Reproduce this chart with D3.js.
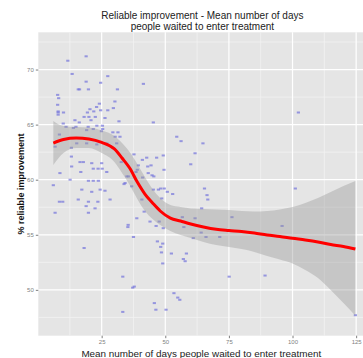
<!DOCTYPE html>
<html>
<head>
<meta charset="utf-8">
<script src="https://cdn.jsdelivr.net/npm/d3@7"></script>
<style>
    body { margin: 0; background: #fff; }
    svg text { font-family: "Liberation Sans", Arial, sans-serif; }
</style>
</head>
<body>
<div id="chart"></div>
<script>
// Scatter points: mean days waited (x) vs % reliable improvement (y)
const waitDays = [
    11.7, 18.9, 13.4, 27.4, 18.9, 24.6, 41.4, 15.8, 16.3, 19.8,
    31.2, 7.7, 8.1, 30.2, 24.1, 7.7, 23.0, 20.4, 24.6, 27.4,
    29.6, 7.9, 7.9, 7.9, 10.0, 19.4, 21.9, 102.3, 18.1, 20.0,
    22.5, 26.3, 14.5, 16.2, 20.8, 31.8, 45.3, 9.9, 23.1, 25.3,
    14.9, 11.0, 13.9, 19.7, 21.7, 25.4, 19.1, 24.9, 29.4, 31.4,
    30.3, 32.2, 8.4, 54.5, 56.2, 64.8, 15.2, 19.1, 23.1, 27.0,
    30.9, 6.7, 13.1, 61.7, 37.7, 49.2, 13.1, 42.7, 46.6, 41.0,
    16.5, 17.8, 21.1, 25.0, 32.7, 44.4, 43.1, 60.0, 39.4, 13.2,
    49.5, 21.7, 23.6, 25.2, 8.6, 16.8, 27.0, 38.5, 39.0, 43.3,
    41.1, 44.8, 45.5, 34.9, 35.5, 12.6, 19.8, 21.7, 23.7, 34.2,
    33.8, 36.8, 6.0, 45.3, 47.3, 48.2, 49.6, 50.8, 52.9, 48.6,
    65.4, 66.4, 66.7, 40.8, 17.2, 21.1, 24.4, 26.3, 8.4, 9.7,
    15.8, 19.8, 23.5, 28.3, 18.9, 22.4, 64.3, 6.7, 19.8, 41.7,
    56.7, 76.2, 61.7, 38.8, 44.0, 47.6, 46.4, 35.4, 35.3, 57.3,
    49.2, 64.1, 61.0, 66.0, 71.4, 37.5, 46.9, 49.0, 48.2, 18.1,
    48.5, 52.4, 58.3, 57.1, 57.8, 49.0, 33.3, 75.1, 89.2, 37.2,
    37.8, 53.4, 54.9, 55.7, 45.7, 33.3, 46.3, 50.3, 124.7, 101.1,
    95.9, 99.6
];
const improvePct = [
    70.8, 71.2, 69.6, 69.4, 68.9, 68.8, 68.7, 68.2, 68.2, 68.2,
    68.2, 67.7, 67.4, 67.1, 66.9, 66.8, 66.6, 66.4, 66.3, 66.3,
    66.5, 66.2, 66.1, 65.9, 66.1, 66.1, 66.2, 66.1, 65.7, 65.7,
    65.7, 65.6, 65.4, 65.2, 65.4, 65.3, 65.2, 65.1, 64.9, 64.9,
    64.8, 64.8, 64.7, 64.8, 64.6, 64.6, 64.5, 64.4, 64.3, 64.3,
    63.9, 63.9, 64.1, 63.9, 63.5, 63.3, 63.3, 63.3, 63.2, 63.3,
    63.3, 63.0, 62.9, 62.4, 62.3, 62.2, 62.1, 62.0, 62.0, 61.8,
    61.6, 61.6, 61.5, 61.5, 61.6, 61.3, 61.2, 61.4, 61.3, 61.2,
    60.9, 61.0, 61.0, 61.0, 60.6, 60.7, 60.7, 60.7, 60.9, 60.6,
    60.2, 60.4, 60.3, 60.3, 60.3, 60.0, 59.9, 59.9, 59.9, 59.7,
    59.6, 59.4, 59.5, 59.1, 59.1, 59.2, 59.2, 58.9, 58.7, 58.3,
    59.2, 58.6, 58.2, 58.2, 59.1, 58.9, 59.1, 59.0, 58.0, 58.0,
    58.2, 58.0, 58.0, 58.2, 57.6, 57.4, 57.4, 57.0, 57.0, 57.1,
    56.6, 56.6, 56.5, 56.5, 56.2, 56.2, 55.8, 55.9, 55.7, 55.7,
    55.6, 55.2, 54.7, 54.8, 54.8, 54.8, 54.4, 54.2, 53.9, 53.8,
    53.4, 53.3, 53.3, 52.8, 52.6, 52.4, 51.2, 51.2, 51.3, 50.2,
    50.3, 49.7, 49.3, 49.1, 48.8, 48.0, 48.2, 48.2, 47.7, 59.2,
    55.8, 54.7
];

// Loess fit with its confidence band
const fitX = [6.0, 10, 15, 20, 25, 30, 33, 36, 39, 42, 45, 48, 52, 56, 60, 65,
    70, 75, 80, 85, 90, 95, 100, 105, 110, 115, 120, 124.7];
const fitY = [63.33, 63.65, 63.78, 63.69, 63.38, 62.79, 61.97, 61.06, 59.79, 58.70,
    57.89, 57.16, 56.52, 56.25, 55.98, 55.71, 55.50, 55.39, 55.30, 55.16,
    54.98, 54.85, 54.68, 54.53, 54.35, 54.12, 53.94, 53.71];
const fitHi = [65.33, 64.87, 64.78, 64.74, 64.46, 63.97, 63.33, 62.51, 61.42, 60.25,
    59.16, 58.34, 57.70, 57.52, 57.39, 57.34, 57.30, 57.25, 57.16, 57.11,
    57.16, 57.30, 57.52, 57.89, 58.34, 58.88, 59.43, 59.88];
const fitLo = [61.33, 62.42, 62.88, 62.88, 62.42, 61.61, 60.61, 59.52, 58.25, 57.16,
    56.43, 55.89, 55.34, 54.98, 54.71, 54.35, 54.07, 53.89, 53.71, 53.44,
    53.08, 52.76, 52.40, 51.81, 51.08, 49.99, 48.81, 47.66];

const xTicks = [25, 50, 75, 100, 125];
const xMinor = [12.5, 37.5, 62.5, 87.5, 112.5];
const yTicks = [50, 55, 60, 65, 70];
const yMinor = [47.5, 52.5, 57.5, 62.5, 67.5, 72.5];

const chartTitle = ["Reliable improvement - Mean number of days",
    "people waited to enter treatment"];
const xTitle = "Mean number of days people waited to enter treatment";
const yTitle = "% reliable improvement";

function drawChart() {
    let width = 363;
    let height = 358;

    // panel box (the right side runs past the window, as in the picture)
    let panel = { left: 38.3, top: 32.3, right: 370.4, bottom: 335.7 };

    let svg = d3.select("#chart").append("svg")
        .attr("width", width)
        .attr("height", height);

    let x = d3.scaleLinear()
        .domain([0.1, 130.6])
        .range([panel.left, panel.right]);

    let y = d3.scaleLinear()
        .domain([45.84, 73.38])
        .range([panel.bottom, panel.top]);

    // grey panel
    svg.append("rect")
        .attr("x", panel.left)
        .attr("y", panel.top)
        .attr("width", panel.right - panel.left)
        .attr("height", panel.bottom - panel.top)
        .attr("fill", "#e5e5e5");

    // minor grid
    let grid = svg.append("g");
    grid.selectAll(".vminor").data(xMinor).enter().append("line")
        .attr("x1", d => x(d)).attr("x2", d => x(d))
        .attr("y1", panel.top).attr("y2", panel.bottom)
        .attr("stroke", "#f2f2f2").attr("stroke-width", 0.8);
    grid.selectAll(".hminor").data(yMinor).enter().append("line")
        .attr("y1", d => y(d)).attr("y2", d => y(d))
        .attr("x1", panel.left).attr("x2", panel.right)
        .attr("stroke", "#f2f2f2").attr("stroke-width", 0.8);

    // major grid
    grid.selectAll(".vmajor").data(xTicks).enter().append("line")
        .attr("x1", d => x(d)).attr("x2", d => x(d))
        .attr("y1", panel.top).attr("y2", panel.bottom)
        .attr("stroke", "#ffffff").attr("stroke-width", 1.2);
    grid.selectAll(".hmajor").data(yTicks).enter().append("line")
        .attr("y1", d => y(d)).attr("y2", d => y(d))
        .attr("x1", panel.left).attr("x2", panel.right)
        .attr("stroke", "#ffffff").attr("stroke-width", 1.2);

    // points
    let pts = waitDays.map((d, i) => ({ x: d, y: improvePct[i] }));
    svg.append("g").selectAll("rect")
        .data(pts)
        .enter()
        .append("rect")
        .attr("x", d => x(d.x) - 1.6)
        .attr("y", d => y(d.y) - 1)
        .attr("width", 3.2)
        .attr("height", 2)
        .attr("fill", "#7474dc")
        .attr("fill-opacity", 0.7);

    // smoother band and line
    let fit = fitX.map((d, i) => ({ x: d, y: fitY[i], lo: fitLo[i], hi: fitHi[i] }));

    let band = d3.area()
        .x(d => x(d.x))
        .y0(d => y(d.lo))
        .y1(d => y(d.hi))
        .curve(d3.curveMonotoneX);

    svg.append("path")
        .datum(fit)
        .attr("d", band)
        .attr("fill", "#999999")
        .attr("fill-opacity", 0.4);

    let line = d3.line()
        .x(d => x(d.x))
        .y(d => y(d.y))
        .curve(d3.curveMonotoneX);

    svg.append("path")
        .datum(fit)
        .attr("d", line)
        .attr("fill", "none")
        .attr("stroke", "#ff0000")
        .attr("stroke-width", 3);

    // axes
    let xAxis = g => g
        .attr("transform", `translate(0, ${panel.bottom})`)
        .call(d3.axisBottom(x).tickValues(xTicks).tickSize(2.5).tickPadding(2))
        .call(g => g.select(".domain").remove());

    let yAxis = g => g
        .attr("transform", `translate(${panel.left}, 0)`)
        .call(d3.axisLeft(y).tickValues(yTicks).tickSize(2.5).tickPadding(2))
        .call(g => g.select(".domain").remove());

    [xAxis, yAxis].forEach(ax => {
        svg.append("g")
            .call(ax)
            .call(g => g.selectAll(".tick line").attr("stroke", "#7f7f7f"))
            .call(g => g.selectAll(".tick text")
                .attr("fill", "#7f7f7f")
                .style("font-size", "6px")
                .style("font-family", "Liberation Sans, Arial, sans-serif"));
    });

    // titles
    let cx = (panel.left + panel.right) / 2;
    svg.append("g").selectAll("text")
        .data(chartTitle)
        .enter()
        .append("text")
        .attr("x", cx - 2)
        .attr("y", (d, i) => 19 + i * 11)
        .attr("text-anchor", "middle")
        .attr("fill", "#222")
        .style("font-size", "10px")
        .text(d => d);

    svg.append("text")
        .attr("x", cx - 3)
        .attr("y", 357)
        .attr("text-anchor", "middle")
        .attr("fill", "#222")
        .style("font-size", "9.9px")
        .text(xTitle);

    svg.append("text")
        .attr("transform", `translate(24, ${(panel.top + panel.bottom) / 2}) rotate(-90)`)
        .attr("text-anchor", "middle")
        .attr("fill", "#111")
        .style("font-size", "9px")
        .style("font-weight", "bold")
        .text(yTitle);
}

drawChart();
</script>
</body>
</html>
